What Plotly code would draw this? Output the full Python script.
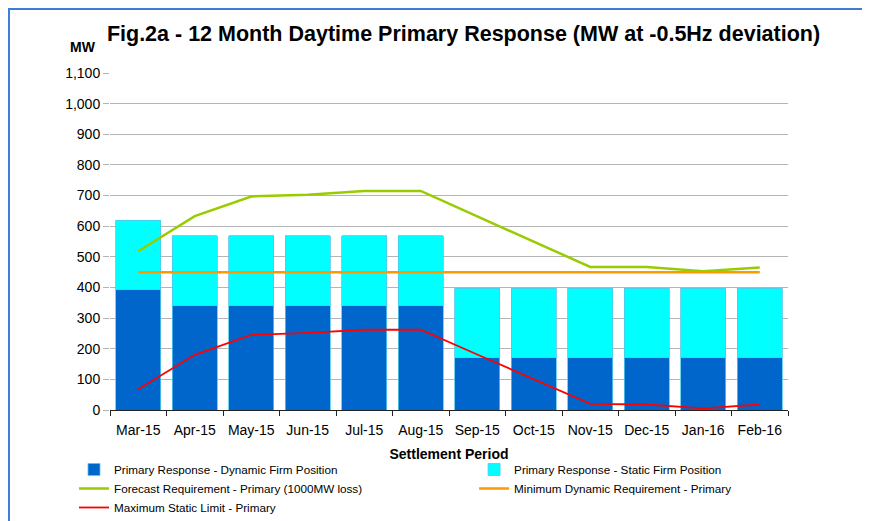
import plotly.graph_objects as go

months = ["Mar-15", "Apr-15", "May-15", "Jun-15", "Jul-15", "Aug-15",
          "Sep-15", "Oct-15", "Nov-15", "Dec-15", "Jan-16", "Feb-16"]
dynamic_firm = [392, 340, 340, 340, 340, 340, 170, 170, 170, 170, 170, 170]
static_firm = [228, 228, 228, 228, 228, 228, 228, 228, 228, 228, 228, 228]
forecast_req = [518, 633, 697, 703, 715, 715, 632, 550, 467, 467, 453, 465]
min_dynamic = [450, 450, 450, 450, 450, 450, 450, 450, 450, 450, 450, 450]
max_static = [68, 180, 245, 252, 262, 262, 181, 100, 20, 18, 5, 18]

FONT = "Liberation Sans, Arial, sans-serif"

fig = go.Figure()

# left legend column: traces 1, 3, 5; right column: traces 2, 4
fig.add_trace(go.Bar(
    x=months, y=dynamic_firm, name="Primary Response - Dynamic Firm Position",
    marker=dict(color="#0066CC", line=dict(color="#55C8E8", width=0.8)),
    legend="legend", legendrank=1,
))
fig.add_trace(go.Bar(
    x=months, y=static_firm, name="Primary Response - Static Firm Position",
    marker=dict(color="#00FFFF", line=dict(color="#55C8E8", width=0.8)),
    legend="legend2", legendrank=1,
))
fig.add_trace(go.Scatter(
    x=months, y=forecast_req, mode="lines",
    name="Forecast Requirement - Primary (1000MW loss)",
    line=dict(color="#99CC00", width=2.5),
    legend="legend", legendrank=2,
))
fig.add_trace(go.Scatter(
    x=months, y=min_dynamic, mode="lines",
    name="Minimum Dynamic Requirement - Primary",
    line=dict(color="#FF9900", width=2.5),
    legend="legend2", legendrank=2,
))
fig.add_trace(go.Scatter(
    x=months, y=max_static, mode="lines",
    name="Maximum Static Limit - Primary",
    line=dict(color="#FF0000", width=1.8),
    legend="legend", legendrank=3,
))

legend_style = dict(
    orientation="v", xanchor="left", yanchor="top", y=-0.1335,
    font=dict(size=11.7, color="black"), tracegroupgap=0,
    traceorder="normal", itemwidth=30, bgcolor="rgba(0,0,0,0)",
)

fig.update_layout(
    width=870, height=521,
    barmode="stack", bargap=0.2,
    plot_bgcolor="white", paper_bgcolor="white",
    font=dict(family=FONT, size=14, color="black"),
    margin=dict(l=102, r=90, t=65, b=119, autoexpand=False),
    title=dict(
        text="<b>Fig.2a - 12 Month Daytime Primary Response (MW at -0.5Hz deviation)</b>",
        x=0.5236, xanchor="center", y=0.952, yanchor="middle",
        font=dict(size=21.5, color="black"),
    ),
    showlegend=True,
    legend=dict(x=-0.0531, **legend_style),
    legend2=dict(x=0.537, **legend_style),
    shapes=[dict(type="rect", xref="paper", yref="paper",
                 x0=-0.149, x1=1.118, y0=-0.4, y1=1.19,
                 line=dict(color="#3A7FD5", width=2))],
    annotations=[dict(text="<b>MW</b>", xref="paper", yref="paper",
                      x=-0.018, y=1.077, xanchor="right", yanchor="middle",
                      showarrow=False, font=dict(size=14, color="black"))],
)

fig.update_xaxes(
    type="category", showline=True, linecolor="#222222", linewidth=1.2,
    ticks="outside", tickson="boundaries", ticklen=5, tickcolor="#222222",
    ticklabelstandoff=7, showgrid=False,
    title=dict(text="<b>Settlement Period</b>", standoff=12,
               font=dict(size=14)),
)
fig.update_yaxes(
    range=[0, 1100], dtick=100, tickformat=",d",
    showgrid=True, gridcolor="#B4B4B4", gridwidth=1,
    zeroline=False, showline=False, ticks="outside", ticklen=6,
    tickcolor="#B4B4B4",
)

fig.write_html("out.html")
